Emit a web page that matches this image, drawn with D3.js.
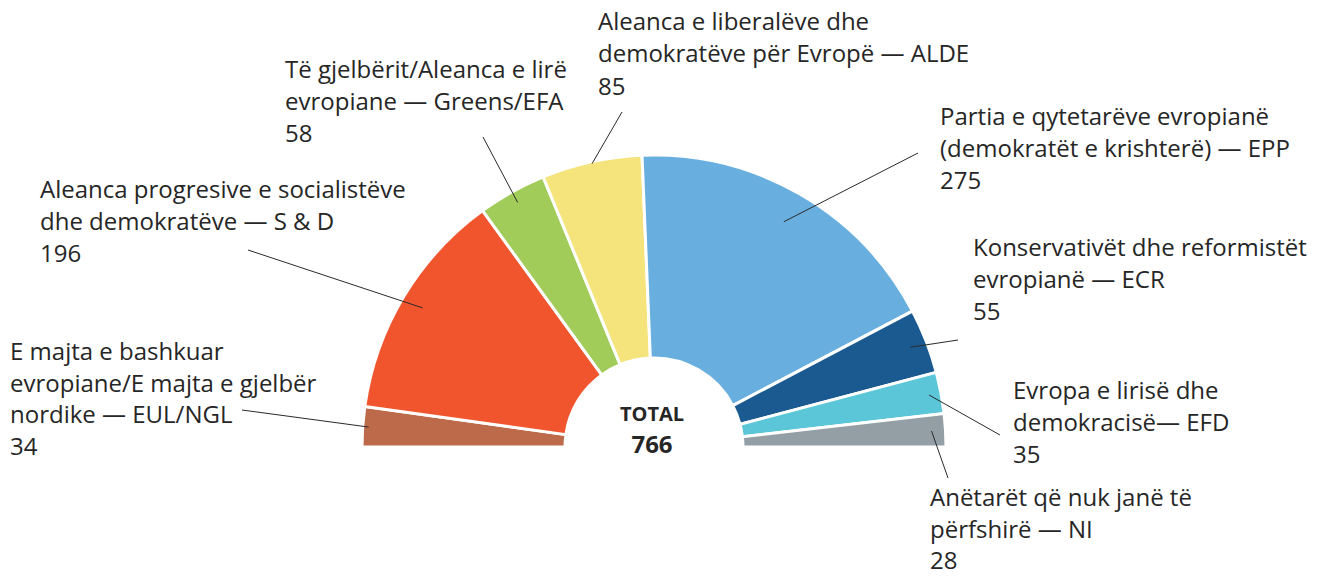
<!DOCTYPE html>
<html>
<head>
<meta charset="utf-8">
<script src="https://cdn.jsdelivr.net/npm/d3@7"></script>
<style>
  html, body { margin: 0; padding: 0; background: #fff; }
  svg text { font-family: "Open Sans", Roboto, sans-serif; fill: #262626; }
</style>
</head>
<body>
<div id="chart"></div>
<script>
// political groups, left to right round the half circle
const groups = ["EUL/NGL", "S&D", "Greens/EFA", "ALDE", "EPP", "ECR", "EFD", "NI"];
const seats = [34, 196, 58, 85, 275, 55, 35, 28];
const groupColors = ["#bd6a4b", "#f0552e", "#a2cc5a", "#f5e47c", "#68afdf", "#1a5a90", "#5bc6d8", "#939fa4"];
const labelLines = [
  ["E majta e bashkuar", "evropiane/E majta e gjelbër", "nordike — EUL/NGL"],
  ["Aleanca progresive e socialistëve", "dhe demokratëve — S & D"],
  ["Të gjelbërit/Aleanca e lirë", "evropiane — Greens/EFA"],
  ["Aleanca e liberalëve dhe", "demokratëve për Evropë  — ALDE"],
  ["Partia e qytetarëve evropianë", "(demokratët e krishterë) — EPP"],
  ["Konservativët dhe reformistët", "evropianë — ECR"],
  ["Evropa e lirisë dhe", "demokracisë— EFD"],
  ["Anëtarët që nuk janë të", "përfshirë — NI"]
];
const totalLabel = "TOTAL";

// label placement: text origin, baselines, leader line ends
const labelLayout = [
  { x: 10,   ys: [360, 392, 423, 455], lx: 242, ly: 410, r: 286 },
  { x: 40,   ys: [198, 230, 262],      lx: 248, ly: 250, r: 270 },
  { x: 285,  ys: [78, 110, 142],       lx: 483, ly: 137, r: 280 },
  { x: 598,  ys: [30, 62, 95],         lx: 622, ly: 112, r: 290 },
  { x: 940,  ys: [125, 157, 189],      lx: 918, ly: 153, r: 260 },
  { x: 973,  ys: [256, 288, 320],      lx: 958, ly: 340, r: 275 },
  { x: 1013, ys: [399, 431, 463],      lx: 1000, ly: 435, r: 280 },
  { x: 930,  ys: [506, 538, 569],      lx: 948, ly: 478, r: 278 }
];

const width = 1320, height = 576;
const cx = 654, cy = 447;
const outerR = 292, innerR = 89;

const svg = d3.select("#chart")
  .append("svg")
  .attr("width", width)
  .attr("height", height);

const data = groups.map((g, i) => ({ group: g, value: seats[i], color: groupColors[i], lines: labelLines[i], layout: labelLayout[i] }));

const pie = d3.pie()
  .sort(null)
  .value(d => d.value)
  .startAngle(-Math.PI / 2)
  .endAngle(Math.PI / 2);

const arc = d3.arc()
  .innerRadius(innerR)
  .outerRadius(outerR);

const arcs = pie(data);

const chartGroup = svg.append("g")
  .attr("transform", `translate(${cx}, ${cy})`);

chartGroup.selectAll("path")
  .data(arcs)
  .enter()
  .append("path")
  .attr("d", arc)
  .attr("fill", d => d.data.color)
  .attr("stroke", "#fff")
  .attr("stroke-width", 3)
  .attr("stroke-linejoin", "miter");

// leader lines, inner end sits inside the slice on its mid angle
chartGroup.selectAll(".leader")
  .data(arcs)
  .enter()
  .append("line")
  .attr("class", "leader")
  .attr("x1", d => d.data.layout.lx - cx)
  .attr("y1", d => d.data.layout.ly - cy)
  .attr("x2", d => d.data.layout.r * Math.sin((d.startAngle + d.endAngle) / 2))
  .attr("y2", d => -d.data.layout.r * Math.cos((d.startAngle + d.endAngle) / 2))
  .attr("stroke", "#2a2a2a")
  .attr("stroke-width", 1);

const labels = svg.selectAll(".label")
  .data(data)
  .enter()
  .append("text")
  .attr("class", "label")
  .style("font-size", "24px");

labels.selectAll("tspan")
  .data(d => d.lines.concat([String(d.value)]).map((t, i) => ({ t, x: d.layout.x, y: d.layout.ys[i] })))
  .enter()
  .append("tspan")
  .attr("x", d => d.x)
  .attr("y", d => d.y)
  .text(d => d.t);

const total = d3.sum(seats);

svg.append("text")
  .attr("x", cx - 2)
  .attr("y", 421)
  .attr("text-anchor", "middle")
  .style("font-size", "20px")
  .style("font-weight", "bold")
  .text(totalLabel);

svg.append("text")
  .attr("x", cx - 2)
  .attr("y", 453)
  .attr("text-anchor", "middle")
  .style("font-size", "24px")
  .style("font-weight", "bold")
  .text(total);
</script>
</body>
</html>
